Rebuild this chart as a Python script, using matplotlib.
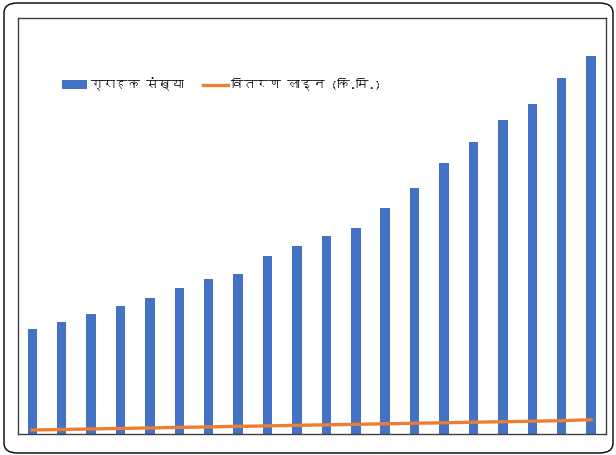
import matplotlib
matplotlib.use("Agg")
import matplotlib.pyplot as plt
from matplotlib import font_manager
from matplotlib.ft2font import FT2Font
from matplotlib.patches import FancyBboxPatch
import numpy as np

# data
years = list(range(1, 21))
customers = [2110, 2250, 2405, 2565, 2730, 2925, 3115, 3215, 3570, 3770,
             3975, 4125, 4525, 4930, 5425, 5850, 6285, 6615, 7125, 7575]
line_km = [90, 100, 110, 121, 131, 142, 152, 162, 172, 183,
           193, 203, 214, 224, 234, 245, 255, 265, 276, 296]
labels = ["ग्राहक संख्या", "वितरण लाइन (कि.मि.)"]


def find_devanagari_font():
    # pick any installed font that actually has Devanagari glyphs
    for f in font_manager.fontManager.ttflist:
        try:
            ft = FT2Font(f.fname)
            if ft.get_char_index(ord("क")) and ft.get_char_index(ord("्")):
                return f.name
        except Exception:
            continue
    return None


dev_font = find_devanagari_font()
families = [dev_font, "DejaVu Sans"] if dev_font else ["DejaVu Sans"]
plt.rcParams["font.family"] = families

fig = plt.figure(figsize=(6.16, 4.55), dpi=100)

# rounded outer border
border = FancyBboxPatch((4 / 616, 2 / 455), 609 / 616, 450 / 455,
                        boxstyle="round,pad=0,rounding_size=0.022",
                        transform=fig.transFigure, fill=False,
                        edgecolor="black", linewidth=1.0)
fig.patches.append(border)

ax = fig.add_axes([0.0287, 0.0451, 0.9546, 0.9147])
x = np.arange(len(years))
bars = ax.bar(x, customers, width=0.32, color="#4472C4", zorder=2)
line, = ax.plot(x, line_km, color="#ED7D31", linewidth=2.4, zorder=3)

ax.set_xlim(-0.5, len(years) - 0.5)
ax.set_ylim(0, 8320)
ax.set_xticks([])
ax.set_yticks([])
for s in ax.spines.values():
    s.set_color("#404040")
    s.set_linewidth(1.0)

ax.legend([bars, line], labels, loc="center left",
          bbox_to_anchor=(62 / 616, 1 - 84 / 455),
          bbox_transform=fig.transFigure, ncol=2, frameon=False,
          fontsize=9, handlelength=2.0, handletextpad=0.25,
          columnspacing=1.5, borderpad=0, borderaxespad=0)

fig.savefig("out.png", dpi=100)
